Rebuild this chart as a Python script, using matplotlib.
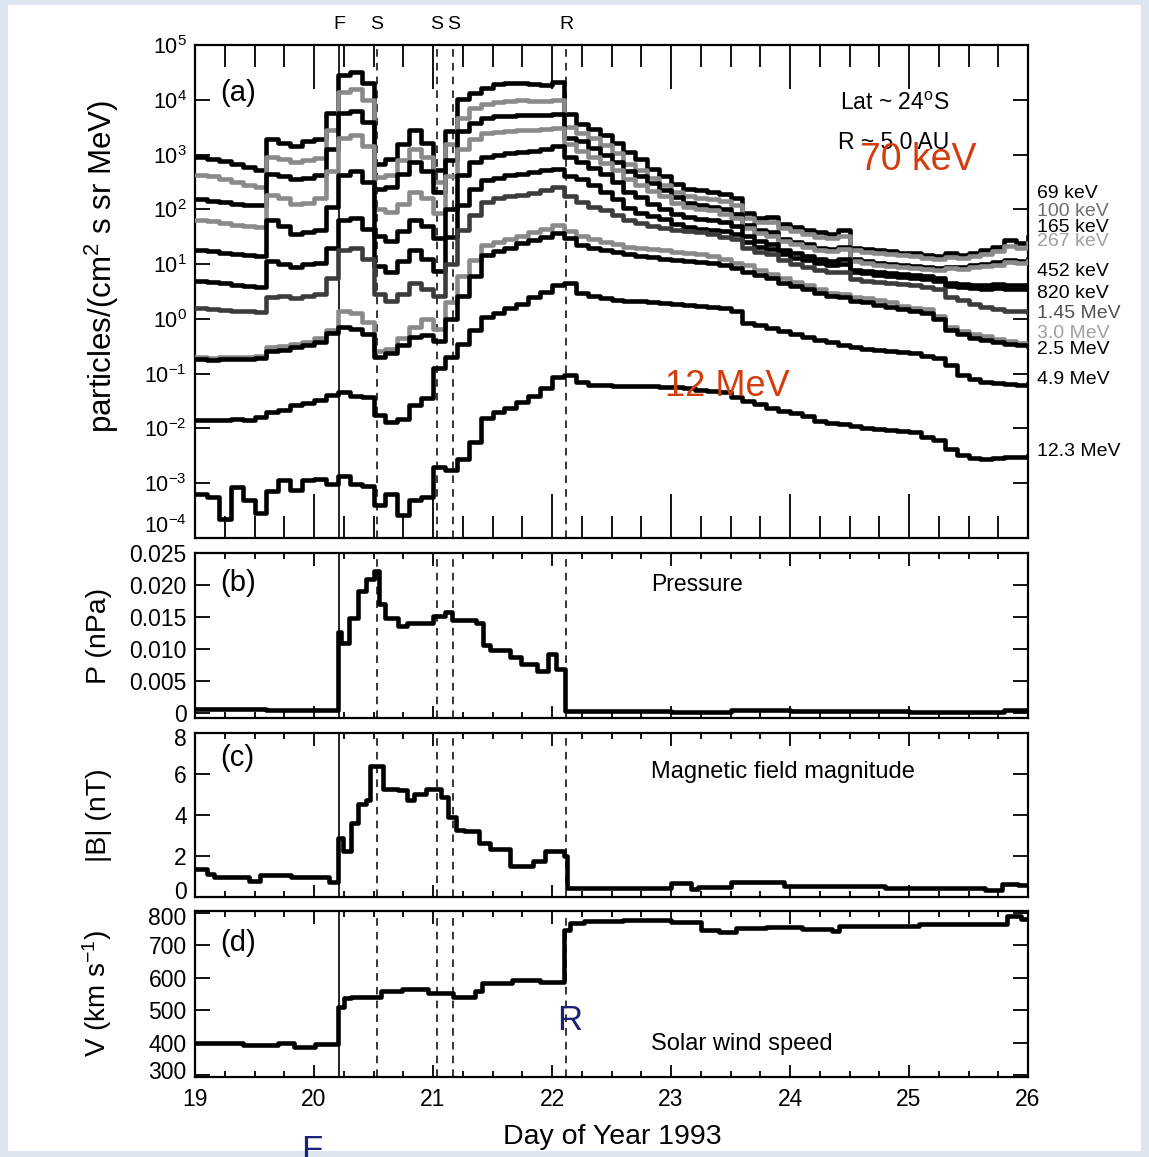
import numpy as np
import matplotlib
matplotlib.use("Agg")
import matplotlib.pyplot as plt
from matplotlib.patches import Rectangle
from matplotlib.ticker import MultipleLocator, FixedLocator, NullLocator
from matplotlib.transforms import ScaledTranslation

plt.rcParams['font.family'] = ['Liberation Sans', 'DejaVu Sans']
plt.rcParams['mathtext.fontset'] = 'custom'
plt.rcParams['mathtext.rm'] = 'Liberation Sans'
plt.rcParams['mathtext.it'] = 'Liberation Sans:italic'

W, H = 1149, 1157

# ---------------- data ----------------
# panel (a): log10 of particle intensity, 0.1 day bins from day 19.0 to 26.0
t_a = np.round(np.arange(19.0, 26.05, 0.1), 2)

flux_69kev = [2.96, 2.92, 2.88, 2.82, 2.78, 2.72, 3.28, 3.22, 3.15, 3.24, 3.28, 3.75,
              4.45, 4.50, 4.30, 2.82, 2.92, 3.20, 3.45, 3.22, 2.72,
              3.43, 4.02, 4.13, 4.22, 4.28, 4.31, 4.31, 4.29, 4.27, 4.33, 3.74,
              3.56, 3.46, 3.36, 3.22, 3.05, 2.92, 2.74, 2.60, 2.46, 2.38,
              2.35, 2.32, 2.28, 2.20, 1.94, 1.84, 1.86, 1.74, 1.68, 1.62,
              1.58, 1.55, 1.62, 1.30, 1.28, 1.25, 1.24, 1.21, 1.20, 1.17,
              1.15, 1.20, 1.17, 1.20, 1.25, 1.32, 1.44, 1.38, 1.50]
flux_100kev = [2.63, 2.60, 2.55, 2.50, 2.45, 2.41, 2.95, 2.92, 2.87, 2.90, 2.94, 3.45,
               4.15, 4.20, 4.00, 2.59, 2.62, 2.90, 3.11, 2.95, 2.50,
               3.20, 3.67, 3.85, 3.93, 3.96, 3.98, 3.99, 3.98, 3.97, 4.00, 3.50,
               3.39, 3.30, 3.18, 3.02, 2.82, 2.72, 2.58, 2.45, 2.32, 2.24,
               2.20, 2.19, 2.15, 2.08, 1.85, 1.76, 1.76, 1.66, 1.60, 1.55,
               1.50, 1.48, 1.52, 1.25, 1.22, 1.20, 1.18, 1.16, 1.15, 1.12,
               1.10, 1.13, 1.12, 1.15, 1.18, 1.24, 1.33, 1.30, 1.38]
flux_165kev = [2.19, 2.16, 2.14, 2.10, 2.08, 2.07, 2.65, 2.60, 2.55, 2.58, 2.62, 3.10,
               3.75, 3.80, 3.60, 2.37, 2.40, 2.65, 2.87, 2.70, 2.31,
               2.90, 3.43, 3.57, 3.67, 3.70, 3.71, 3.72, 3.72, 3.72, 3.74, 3.30,
               3.24, 3.12, 3.00, 2.86, 2.70, 2.60, 2.48, 2.36, 2.22, 2.12,
               2.07, 2.05, 2.00, 1.92, 1.72, 1.62, 1.58, 1.46, 1.40, 1.36,
               1.30, 1.28, 1.32, 1.10, 1.06, 1.02, 1.00, 0.98, 0.96, 0.94,
               0.92, 0.95, 0.94, 0.98, 1.00, 1.04, 1.08, 1.06, 1.10]
flux_267kev = [1.81, 1.78, 1.75, 1.72, 1.70, 1.67, 2.26, 2.20, 2.10, 2.12, 2.20, 2.70,
               3.30, 3.35, 3.15, 2.00, 1.95, 2.10, 2.31, 2.20, 1.94,
               2.60, 3.11, 3.28, 3.39, 3.42, 3.43, 3.44, 3.45, 3.46, 3.48, 3.20,
               3.06, 2.96, 2.85, 2.72, 2.55, 2.45, 2.34, 2.24, 2.12, 2.04,
               2.00, 1.98, 1.92, 1.84, 1.66, 1.56, 1.52, 1.42, 1.36, 1.32,
               1.26, 1.24, 1.28, 1.05, 1.02, 0.99, 0.97, 0.95, 0.93, 0.91,
               0.89, 0.92, 0.91, 0.94, 0.96, 0.99, 1.03, 1.02, 1.05]
flux_452kev = [1.26, 1.24, 1.21, 1.19, 1.17, 1.15, 1.80, 1.70, 1.55, 1.58, 1.62, 2.05,
               2.63, 2.70, 2.50, 1.52, 1.42, 1.60, 1.81, 1.70, 1.48,
               2.00, 2.63, 2.87, 2.96, 3.00, 3.03, 3.05, 3.07, 3.10, 3.15, 2.95,
               2.87, 2.76, 2.64, 2.50, 2.32, 2.22, 2.10, 2.00, 1.92, 1.86,
               1.83, 1.81, 1.76, 1.70, 1.52, 1.42, 1.36, 1.26, 1.20, 1.15,
               1.10, 1.06, 1.10, 0.90, 0.88, 0.85, 0.84, 0.82, 0.80, 0.78,
               0.74, 0.66, 0.64, 0.62, 0.62, 0.63, 0.62, 0.62, 0.62]
flux_820kev = [0.69, 0.67, 0.65, 0.62, 0.60, 0.59, 1.05, 1.00, 0.95, 1.00, 1.02, 1.30,
               1.81, 1.85, 1.65, 0.96, 0.85, 1.05, 1.26, 1.10, 0.87,
               1.50, 2.07, 2.37, 2.54, 2.58, 2.62, 2.65, 2.68, 2.72, 2.74, 2.60,
               2.56, 2.45, 2.32, 2.18, 2.02, 1.94, 1.88, 1.82, 1.74, 1.68,
               1.65, 1.63, 1.60, 1.55, 1.40, 1.32, 1.28, 1.18, 1.12, 1.07,
               1.02, 0.98, 1.00, 0.85, 0.83, 0.80, 0.79, 0.77, 0.75, 0.73,
               0.70, 0.60, 0.58, 0.56, 0.55, 0.56, 0.55, 0.54, 0.55]
flux_1p45mev = [0.19, 0.18, 0.16, 0.15, 0.14, 0.13, 0.40, 0.42, 0.38, 0.42, 0.45, 0.75,
                1.26, 1.30, 1.10, 0.46, 0.33, 0.45, 0.65, 0.55, 0.41,
                1.00, 1.63, 1.89, 2.13, 2.20, 2.24, 2.27, 2.30, 2.35, 2.41, 2.25,
                2.13, 2.05, 1.98, 1.90, 1.80, 1.75, 1.70, 1.66, 1.62, 1.60,
                1.58, 1.55, 1.50, 1.45, 1.30, 1.22, 1.18, 1.08, 1.00, 0.95,
                0.90, 0.85, 0.85, 0.72, 0.70, 0.68, 0.66, 0.64, 0.62, 0.58,
                0.55, 0.40, 0.34, 0.28, 0.22, 0.18, 0.15, 0.14, 0.12]
flux_3p0mev = [-0.70, -0.71, -0.70, -0.70, -0.69, -0.68, -0.52, -0.50, -0.46, -0.42, -0.35, -0.20,
               0.15, 0.10, -0.05, -0.59, -0.55, -0.35, -0.15, 0.00, -0.19,
               0.30, 0.78, 1.07, 1.35, 1.40, 1.45, 1.52, 1.58, 1.65, 1.72, 1.60,
               1.52, 1.45, 1.40, 1.36, 1.32, 1.30, 1.27, 1.25, 1.22, 1.20,
               1.18, 1.15, 1.10, 1.02, 0.98, 0.90, 0.82, 0.74, 0.68, 0.62,
               0.55, 0.48, 0.46, 0.40, 0.38, 0.34, 0.30, 0.24, 0.20, 0.18,
               0.05, -0.15, -0.22, -0.28, -0.32, -0.36, -0.40, -0.44, -0.46]
flux_2p5mev = [-0.74, -0.75, -0.74, -0.74, -0.73, -0.72, -0.58, -0.56, -0.52, -0.48, -0.42, -0.25,
               -0.15, -0.18, -0.28, -0.69, -0.62, -0.48, -0.33, -0.30, -0.40,
               0.00, 0.41, 0.78, 1.17, 1.24, 1.30, 1.38, 1.44, 1.50, 1.57, 1.48,
               1.35, 1.30, 1.25, 1.22, 1.18, 1.15, 1.13, 1.10, 1.08, 1.06,
               1.04, 1.02, 0.98, 0.92, 0.86, 0.80, 0.74, 0.66, 0.60, 0.55,
               0.48, 0.42, 0.40, 0.32, 0.30, 0.26, 0.22, 0.18, 0.14, 0.10,
               0.00, -0.20, -0.28, -0.34, -0.38, -0.42, -0.45, -0.48, -0.50]
flux_4p9mev = [-1.85, -1.84, -1.84, -1.82, -1.84, -1.80, -1.70, -1.67, -1.57, -1.54, -1.48, -1.39,
               -1.33, -1.40, -1.42, -1.76, -1.89, -1.83, -1.57, -1.45, -0.90,
               -0.70, -0.45, -0.20, 0.04, 0.10, 0.20, 0.28, 0.40, 0.50, 0.62, 0.66,
               0.48, 0.42, 0.38, 0.35, 0.33, 0.32, 0.30, 0.29, 0.28, 0.26,
               0.24, 0.22, 0.19, 0.15, -0.08, -0.12, -0.16, -0.22, -0.28, -0.33,
               -0.38, -0.43, -0.48, -0.52, -0.55, -0.57, -0.59, -0.61, -0.63, -0.68,
               -0.72, -0.85, -1.02, -1.10, -1.15, -1.17, -1.18, -1.20, -1.19]
flux_12p3mev = [-3.19, -3.25, -3.65, -3.06, -3.30, -3.55, -3.15, -2.95, -3.12, -2.95, -2.93, -3.02,
                -2.87, -3.02, -3.05, -3.40, -3.20, -3.58, -3.30, -3.25, -2.70,
                -2.75, -2.55, -2.25, -1.81, -1.70, -1.62, -1.52, -1.40, -1.26, -1.06, -1.02,
                -1.15, -1.20, -1.21, -1.22, -1.22, -1.23, -1.22, -1.24, -1.25, -1.27,
                -1.30, -1.31, -1.33, -1.42, -1.50, -1.56, -1.62, -1.68, -1.72, -1.78,
                -1.86, -1.90, -1.92, -1.96, -2.00, -2.01, -2.03, -2.05, -2.07, -2.15,
                -2.22, -2.38, -2.48, -2.54, -2.55, -2.54, -2.52, -2.53, -2.50]

channel_labels = ["69 keV", "100 keV", "165 keV", "267 keV", "452 keV", "820 keV",
                  "1.45 MeV", "3.0 MeV", "2.5 MeV", "4.9 MeV", "12.3 MeV"]

# panel (b): pressure (nPa)
t_p = [19.00, 19.60, 20.20, 20.23, 20.29, 20.37, 20.44, 20.50, 20.55, 20.60, 20.71, 20.78,
       21.00, 21.10, 21.16, 21.36, 21.42, 21.48, 21.65, 21.74, 21.87, 21.97, 22.03, 22.11,
       23.00, 23.50, 24.00, 25.00, 25.80, 26.00]
pressure = [0.0006, 0.0005, 0.0127, 0.0110, 0.0148, 0.0190, 0.0210, 0.0222, 0.0170, 0.0148,
            0.0136, 0.0141, 0.0152, 0.0158, 0.0145, 0.0140, 0.0106, 0.0098, 0.0088, 0.0076,
            0.0065, 0.0092, 0.0068, 0.0003, 0.0002, 0.0004, 0.0003, 0.0002, 0.0004, 0.0004]

# panel (c): magnetic field magnitude (nT)
t_b = [19.00, 19.10, 19.16, 19.45, 19.55, 19.81, 20.13, 20.20, 20.24, 20.31, 20.37, 20.44,
       20.47, 20.58, 20.71, 20.78, 20.84, 20.94, 21.07, 21.13, 21.19, 21.26, 21.39, 21.48,
       21.65, 21.84, 21.94, 22.10, 22.13, 23.00, 23.17, 23.23, 23.50, 23.95, 24.80, 25.64,
       25.78, 25.92, 26.00]
bmag = [1.36, 1.12, 0.96, 0.80, 1.05, 0.96, 0.72, 2.88, 2.24, 3.60, 4.56, 4.72,
        6.40, 5.28, 5.20, 4.72, 5.04, 5.28, 4.88, 3.92, 3.28, 3.20, 2.64, 2.32,
        1.52, 1.76, 2.24, 2.00, 0.45, 0.70, 0.40, 0.50, 0.75, 0.55, 0.45, 0.35,
        0.65, 0.60, 0.60]

# panel (d): solar wind speed (km/s)
t_v = [19.00, 19.40, 19.70, 19.83, 20.01, 20.20, 20.25, 20.31, 20.56, 20.74, 20.96, 21.17,
       21.35, 21.41, 21.66, 21.90, 22.10, 22.15, 22.27, 22.60, 23.00, 23.25, 23.40, 23.55,
       23.80, 24.10, 24.35, 24.41, 24.70, 25.08, 25.40, 25.82, 25.94, 26.00]
speed = [398, 393, 398, 388, 396, 511, 537, 542, 558, 565, 553, 542,
         558, 583, 594, 586, 748, 769, 774, 776, 770, 748, 740, 754,
         756, 750, 743, 759, 760, 764, 766, 790, 780, 780]

# event times: forward shock, shocks, reverse shock
t_forward = 20.21
t_dashed = [20.53, 21.03, 21.17, 22.12]
event_marks = [(20.21, "F"), (20.53, "S"), (21.03, "S"), (21.17, "S"), (22.12, "R")]

# ---------------- figure ----------------
fig = plt.figure(figsize=(W / 100, H / 100), dpi=100)
fig.patch.set_facecolor('#dce5f0')
fig.add_artist(Rectangle((8 / W, 1 - 1151 / H), (1141 - 8) / W, (1151 - 5) / H,
                         transform=fig.transFigure, facecolor='white', edgecolor='none', zorder=0))


def px_axes(left, top, right, bottom):
    return fig.add_axes([left / W, 1 - bottom / H, (right - left) / W, (bottom - top) / H])


ax_a = px_axes(195, 45, 1028, 538)
ax_b = px_axes(195, 553, 1028, 718)
ax_c = px_axes(195, 733, 1028, 897)
ax_d = px_axes(195, 911, 1028, 1077)
axes = [ax_a, ax_b, ax_c, ax_d]

tick_fs = 16.5
for ax in axes:
    ax.set_xlim(19, 26)
    ax.xaxis.set_major_locator(MultipleLocator(1))
    ax.xaxis.set_minor_locator(MultipleLocator(0.25))
    for s in ax.spines.values():
        s.set_linewidth(1.6)
    ax.tick_params(which='both', direction='in', top=True, right=True, width=1.3,
                   labelsize=tick_fs)
    ax.tick_params(axis='y', which='major', length=11, pad=6)
    ax.tick_params(axis='x', which='major', length=9, pad=8)
    ax.tick_params(axis='x', which='minor', length=4.5)
    if ax is not ax_d:
        ax.tick_params(labelbottom=False)
    ax.axvline(t_forward, color='k', lw=1.2, zorder=1)
    for tt in t_dashed:
        ax.axvline(tt, color='k', lw=1.1, dashes=(5, 4), zorder=1)

# panel (a)
series = [flux_69kev, flux_100kev, flux_165kev, flux_267kev, flux_452kev, flux_820kev,
          flux_1p45mev, flux_3p0mev, flux_2p5mev, flux_4p9mev, flux_12p3mev]
line_colors = ['k', '#8a8a8a', 'k', '#8a8a8a', 'k', 'k', '#3c3c3c', '#8a8a8a', 'k', 'k', 'k']
label_colors = ['k', '#6e6e6e', 'k', '#a0a0a0', 'k', 'k', '#505050', '#a0a0a0', 'k', 'k', 'k']
label_y_px = [193, 211, 227, 242, 272, 293, 313, 333, 350, 380, 452]

for vals, col in zip(series, line_colors):
    ax_a.step(t_a, 10.0 ** np.array(vals), where='post', color=col, lw=3.3, zorder=3)

ax_a.set_yscale('log')
ax_a.set_ylim(1e-4, 1e5)
ax_a.yaxis.set_major_locator(FixedLocator([10.0 ** k for k in range(-4, 6)]))
ax_a.yaxis.set_minor_locator(NullLocator())
ax_a.set_yticklabels([r'$10^{%d}$' % k for k in range(-4, 6)])
ax_a.tick_params(axis='y', labelsize=15.5)
ax_a.tick_params(axis='x', which='major', length=32)
ax_a.tick_params(axis='x', which='minor', length=16)
ax_a.set_ylabel(r'particles/(cm$^2$ s sr MeV)', fontsize=22.5)
ax_a.yaxis.set_label_coords(-0.089, 0.55)
ax_a.text(0.030, 0.902, '(a)', transform=ax_a.transAxes, fontsize=21, va='center')
ax_a.text(24.42, 0.882, 'Lat ~ 24$^{\\rm o}$S', transform=ax_a.get_xaxis_transform(),
          fontsize=16.5, va='center')
ax_a.text(24.40, 0.803, 'R ~ 5.0 AU', transform=ax_a.get_xaxis_transform(),
          fontsize=16.5, va='center')
for lab, col, yp in zip(channel_labels, label_colors, label_y_px):
    ax_a.text(1.0108, (538 - yp) / 493, lab, transform=ax_a.transAxes, fontsize=14,
              color=col, va='center', ha='left')
for tt, lab in event_marks:
    ax_a.text(tt, 1.041, lab, transform=ax_a.get_xaxis_transform(), fontsize=14,
              ha='center', va='center')

# panel (b)
ax_b.step(t_p, pressure, where='post', color='k', lw=3.3, zorder=3)
ax_b.set_ylim(-0.0008, 0.025)
ax_b.set_yticks([0, 0.005, 0.010, 0.015, 0.020, 0.025])
ax_b.set_yticklabels(['0', '0.005', '0.010', '0.015', '0.020', '0.025'])
ax_b.set_ylabel('P (nPa)', fontsize=20.5)
ax_b.yaxis.set_label_coords(-0.100, 0.5)
ax_b.text(0.030, 0.818, '(b)', transform=ax_b.transAxes, fontsize=21, va='center')
ax_b.text(22.83, 0.812, 'Pressure', transform=ax_b.get_xaxis_transform(),
          fontsize=16.5, va='center')

# panel (c)
ax_c.step(t_b, bmag, where='post', color='k', lw=3.3, zorder=3)
ax_c.set_ylim(0, 8)
ax_c.set_yticks([0, 2, 4, 6, 8])
ax_c.set_ylabel('|B| (nT)', fontsize=20.5)
ax_c.yaxis.set_label_coords(-0.100, 0.5)
ax_c.text(0.030, 0.848, '(c)', transform=ax_c.transAxes, fontsize=21, va='center')
ax_c.text(22.83, 0.762, 'Magnetic field magnitude', transform=ax_c.get_xaxis_transform(),
          fontsize=17, va='center')

# panel (d)
ax_d.step(t_v, speed, where='post', color='k', lw=3.3, zorder=3)
ax_d.set_ylim(295, 805)
ax_d.set_yticks([300, 400, 500, 600, 700, 800])
ax_d.set_ylabel(r'V (km s$^{-1}$)', fontsize=20)
ax_d.yaxis.set_label_coords(-0.097, 0.5)
ax_d.text(0.030, 0.807, '(d)', transform=ax_d.transAxes, fontsize=21, va='center')
ax_d.text(22.83, 0.199, 'Solar wind speed', transform=ax_d.get_xaxis_transform(),
          fontsize=17, va='center')
ax_d.set_xlabel('Day of Year 1993', fontsize=20.5)
ax_d.xaxis.set_label_coords(0.5006, -0.283)

# nudge the end tick labels so neighbouring panels' labels do not collide
def nudge(label, dy_px):
    label.set_transform(label.get_transform() + ScaledTranslation(0, dy_px / 100, fig.dpi_scale_trans))

ax_a.get_yticklabels()[0].set_va('bottom')
nudge(ax_c.get_yticklabels()[0], 7)
nudge(ax_c.get_yticklabels()[-1], -4)
nudge(ax_d.get_yticklabels()[0], 5)
nudge(ax_d.get_yticklabels()[-1], -3)

# overlaid annotations
red = '#d33c0c'
navy = '#1c2377'
fig.text(860 / W, 1 - 160 / H, '70 keV', color=red, fontsize=27, va='center', ha='left')
fig.text(665 / W, 1 - 386 / H, '12 MeV', color=red, fontsize=26, va='center', ha='left')
fig.text(557 / W, 1 - 1021 / H, 'R', color=navy, fontsize=25, va='center', ha='left')
fig.text(301 / W, 1 - 1134 / H, 'F', color=navy, fontsize=25, va='top', ha='left')

fig.savefig('out.png', dpi=100, facecolor=fig.get_facecolor())
